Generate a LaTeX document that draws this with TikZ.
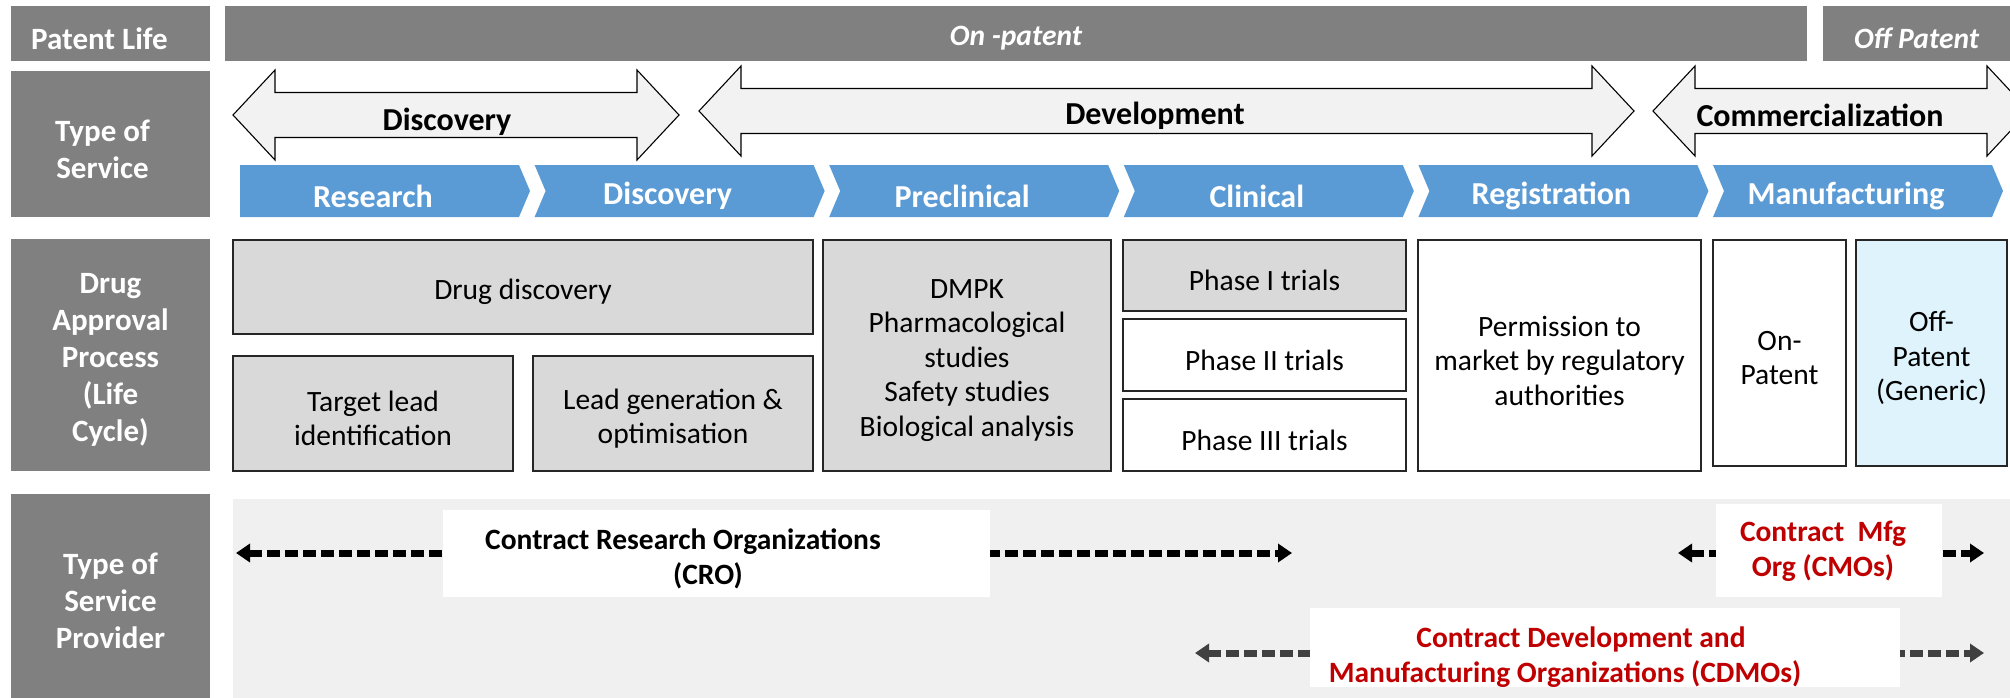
\documentclass[tikz,border=0pt]{standalone}
\usepackage{fontspec}
\setmainfont{Carlito}
\usetikzlibrary{arrows.meta}
\tikzset{>=latex}
\definecolor{labelgray}{RGB}{128,128,128}
\definecolor{chevblue}{RGB}{91,155,213}
\definecolor{boxgray}{RGB}{217,217,217}
\definecolor{arrowfill}{RGB}{242,242,242}
\definecolor{offblue}{RGB}{222,243,251}
\definecolor{provbg}{RGB}{240,240,240}
\definecolor{orgred}{RGB}{192,0,0}
\newcommand{\bodyfont}{\fontsize{29.5}{34.5}\selectfont}
\newcommand{\headfont}{\fontsize{31}{37}\selectfont\bfseries}
\newcommand{\orgfont}{\fontsize{29.5}{35.5}\selectfont\bfseries}

\tikzset{
  rowlabel/.style={fill=labelgray, inner sep=0pt, outer sep=0pt, anchor=north west, minimum width=199pt},
  rowtext/.style={text=white, font=\headfont, align=center, yshift=-5pt},
  patentbar/.style={fill=labelgray, inner sep=0pt, outer sep=0pt, anchor=north west, minimum height=55pt},
  bartext/.style={text=white, font=\fontsize{29.5}{34}\selectfont\bfseries\itshape, yshift=-5pt},
  bigarrow/.style={fill=arrowfill, draw=black, line width=1.1pt, line join=miter},
  arrowlabel/.style={font=\fontsize{32}{37}\selectfont\bfseries},
  chevlabel/.style={text=white, font=\fontsize{32}{37}\selectfont\bfseries},
  stagebox/.style={draw=black!85, line width=1.5pt, inner sep=0pt, outer sep=0pt, anchor=north west},
  boxtext/.style={font=\bodyfont, align=center, yshift=-5pt},
  provarrow/.style={<->, >={Triangle[length=14pt,width=18pt]}, line width=7pt,
    dash pattern=on 13pt off 5pt},
  orgbox/.style={fill=white, inner sep=0pt, outer sep=0pt, anchor=north west},
  orgtext/.style={font=\orgfont, align=center}
}

\begin{document}
\begin{tikzpicture}[x=1pt,y=-1pt]
  \clip (0,0) rectangle (2010,698);
  % row labels
  \node[rowlabel, minimum height=55pt, label={[rowtext, xshift=-11pt]center:Patent Life}] (patentlife) at (11,6) {};
  \node[rowlabel, minimum height=146pt, label={[rowtext, xshift=-8pt]center:{Type of\\Service}}] (servicetype) at (11,71) {};
  \node[rowlabel, minimum height=232pt, label={[rowtext]center:{Drug\\Approval\\Process\\(Life\\Cycle)}}] (approval) at (11,239) {};
  \node[rowlabel, minimum height=204pt, label={[rowtext]center:{Type of\\Service\\Provider}}] (provider) at (11,494) {};
  % patent life
  \node[patentbar, minimum width=1582pt, label={[bartext]center:On -patent}] (onpatent) at (225,6) {};
  \node[patentbar, minimum width=187pt, label={[bartext]center:Off Patent}] (offpatent) at (1823,6) {};
  % type of service
  \foreach \lx/\rx/\my in {233/679/115, 699/1634/111, 1653/2029/111}{
    \draw[bigarrow] (\lx,\my) -- ++(42,-45) -- ++(0,22.5) -- ({\rx-42},{\my-22.5})
      -- ++(0,-22.5) -- (\rx,\my) -- ++(-42,45) -- ++(0,-22.5) -- ({\lx+42},{\my+22.5})
      -- ++(0,22.5) -- cycle;
  }
  \node[arrowlabel] (disclabel) at (447,122) {Discovery};
  \node[arrowlabel] (devlabel) at (1155,116) {Development};
  \node[arrowlabel] (comlabel) at (1820,115) {Commercialization};
  \foreach \stage [count=\i from 0] in {Research,Discovery,Preclinical,Clinical,Registration,Manufacturing}{
    \pgfmathsetmacro{\cx}{240+294.6*\i}
    \pgfmathsetmacro{\notch}{\i==0 ? 0 : 11}
    \fill[chevblue] (\cx,165) -- ++(279,0) -- ++(11,26) -- ++(-11,26) -- (\cx,217)
      -- ++(\notch,-26) -- cycle;
    \node[chevlabel] (chev\i) at (\cx+133,196) {\stage};
  }
  % drug approval process
  \node[stagebox, fill=boxgray, minimum width=580pt, minimum height=94pt,
    label={[boxtext]center:Drug discovery}] (drugdisc) at (233,240) {};
  \node[stagebox, fill=boxgray, minimum width=280pt, minimum height=115pt,
    label={[boxtext]center:{Target lead\\identification}}] (targetlead) at (233,356) {};
  \node[stagebox, fill=boxgray, minimum width=280pt, minimum height=115pt,
    label={[boxtext]center:{Lead generation \&\\optimisation}}] (leadgen) at (533,356) {};
  \node[stagebox, fill=boxgray, minimum width=288pt, minimum height=231pt,
    label={[boxtext]center:{DMPK\\Pharmacological\\studies\\Safety studies\\Biological analysis}}] (dmpk) at (823,240) {};
  \node[stagebox, fill=boxgray, minimum width=283pt, minimum height=71pt,
    label={[boxtext]center:Phase I trials}] (phaseone) at (1123,240) {};
  \node[stagebox, fill=white, minimum width=283pt, minimum height=72pt,
    label={[boxtext]center:Phase II trials}] (phasetwo) at (1123,319) {};
  \node[stagebox, fill=white, minimum width=283pt, minimum height=72pt,
    label={[boxtext]center:Phase III trials}] (phasethree) at (1123,399) {};
  \node[stagebox, fill=white, minimum width=283pt, minimum height=231pt,
    label={[boxtext]center:{Permission to\\market by regulatory\\authorities}}] (permission) at (1418,240) {};
  \node[stagebox, fill=white, minimum width=133pt, minimum height=226pt,
    label={[boxtext]center:{On-\\Patent}}] (onpat) at (1713,240) {};
  \node[stagebox, fill=offblue, minimum width=151pt, minimum height=226pt,
    label={[boxtext]center:{Off-\\Patent\\(Generic)}}] (offpat) at (1856,240) {};
  % service providers
  \fill[provbg] (233,499) rectangle (2010,698);
  \coordinate (croW) at (236,553);
  \coordinate (croE) at (1292,553);
  \coordinate (cmoW) at (1678,553);
  \coordinate (cmoE) at (1984,553);
  \coordinate (cdmoW) at (1195,653);
  \coordinate (cdmoE) at (1984,653);
  \draw[provarrow, black] (croW) -- (croE);
  \draw[provarrow, black] (cmoW) -- (cmoE);
  \draw[provarrow, black!75] (cdmoW) -- (cdmoE);
  \node[orgbox, minimum width=547pt, minimum height=87pt] (crobox) at (443,510) {};
  \node[orgtext] (crotext) at (708,559) {Contract Research Organizations\hspace*{50pt}\\(CRO)};
  \node[orgbox, minimum width=226pt, minimum height=93pt] (cmobox) at (1716,504) {};
  \node[orgtext, text=orgred] (cmotext) at (1823,551) {Contract\hspace{0.45em}Mfg\\Org (CMOs)};
  \node[orgbox, minimum width=590pt, minimum height=79pt] (cdmobox) at (1310,608) {};
  \node[orgtext, text=orgred] (cdmotext) at (1565,657) {\hspace*{32pt}Contract Development and\\Manufacturing Organizations (CDMOs)};
\end{tikzpicture}
\end{document}
